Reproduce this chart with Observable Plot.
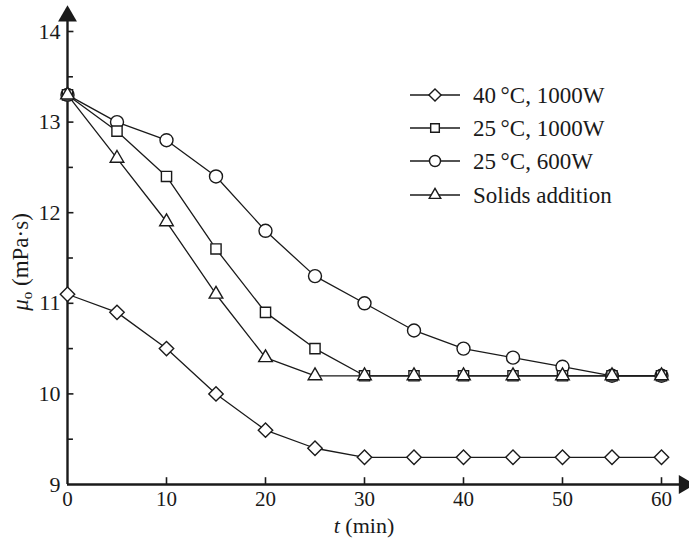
<!DOCTYPE html>
<html>
<head>
<meta charset="utf-8">
<script src="https://cdn.jsdelivr.net/npm/d3@7"></script>
<script src="https://cdn.jsdelivr.net/npm/@observablehq/plot@0.6"></script>
<style>
  html, body { margin: 0; padding: 0; background: #fff; }
  #chart svg { display: block; }
</style>
</head>
<body>
<div id="chart"></div>
<script>
// ---- data ----
const times = [0, 5, 10, 15, 20, 25, 30, 35, 40, 45, 50, 55, 60];
const seriesNames = ["40\u2009°C, 1000W", "25\u2009°C, 1000W", "25\u2009°C, 600W", "Solids addition"];
const s40c1000w = [11.1, 10.9, 10.5, 10.0, 9.6, 9.4, 9.3, 9.3, 9.3, 9.3, 9.3, 9.3, 9.3];
const s25c1000w = [13.3, 12.9, 12.4, 11.6, 10.9, 10.5, 10.2, 10.2, 10.2, 10.2, 10.2, 10.2, 10.2];
const s25c600w = [13.3, 13.0, 12.8, 12.4, 11.8, 11.3, 11.0, 10.7, 10.5, 10.4, 10.3, 10.2, 10.2];
const sSolids = [13.3, 12.6, 11.9, 11.1, 10.4, 10.2, 10.2, 10.2, 10.2, 10.2, 10.2, 10.2, 10.2];
const xTicks = [0, 10, 20, 30, 40, 50, 60];
const yTicks = [9, 10, 11, 12, 13, 14];
const yMinorTicks = [9.5, 10.5, 11.5, 12.5, 13.5];
const symbols = ["diamond2", "square2", "circle", "triangle2"];

const seriesValues = [s40c1000w, s25c1000w, s25c600w, sSolids];
// draw order: diamonds, circles, squares, triangles
const drawOrder = [0, 2, 1, 3];
const data = [];
for (const i of drawOrder) {
  times.forEach((t, j) => data.push({t, v: seriesValues[i][j], series: seriesNames[i]}));
}

const xMin = 0, xMax = 60, yMin = 9, yMax = 14;
const ink = "#1a1a1a";
const font = "'Liberation Serif', 'Times New Roman', 'DejaVu Serif', serif";

const plot = Plot.plot({
  width: 689,
  height: 538,
  marginLeft: 67,
  marginRight: 28,
  marginTop: 31,
  marginBottom: 54,
  style: {fontFamily: font, fontSize: "22px", color: ink, background: "#fff"},
  x: {domain: [xMin, xMax]},
  y: {domain: [yMin, yMax]},
  symbol: {domain: seriesNames, range: symbols},
  marks: [
    Plot.axisX({ticks: xTicks, tickSize: 0, tickPadding: 7, fontSize: 21, tickFormat: "d", label: null}),
    Plot.axisY({ticks: yTicks, tickSize: 0, tickPadding: 7, fontSize: 22, tickFormat: "d", label: null}),
    Plot.ruleX(xTicks.filter(d => d > xMin), {x: d => d, y1: yMin, y2: yMin + 0.075, stroke: ink, strokeWidth: 1.6}),
    Plot.ruleY(yTicks.filter(d => d > yMin), {y: d => d, x1: xMin, x2: xMin + 0.65, stroke: ink, strokeWidth: 1.6}),
    Plot.ruleY(yMinorTicks, {y: d => d, x1: xMin, x2: xMin + 0.6, stroke: ink, strokeWidth: 1.6}),
    Plot.ruleX([xMin], {y1: yMin, y2: yMax + 0.12, stroke: ink, strokeWidth: 2.4}),
    Plot.ruleY([yMin], {x1: xMin, x2: xMax + 2.0, stroke: ink, strokeWidth: 2.4}),
    Plot.dot([xMin], {x: d => d, y: () => yMax + 0.17, symbol: () => "triangle", r: 7, fill: ink, stroke: "none"}),
    Plot.dot([yMin], {x: () => xMax + 2.3, y: d => d, symbol: () => "triangle", rotate: 90, r: 7, fill: ink, stroke: "none"}),
    Plot.line(data, {x: "t", y: "v", z: "series", stroke: ink, strokeWidth: 1.3}),
    Plot.dot(data, {x: "t", y: "v", symbol: "series", r: 6.5, fill: "white", stroke: ink, strokeWidth: 1.4})
  ]
});

document.getElementById("chart").appendChild(plot);

const svg = d3.select(plot);
const fx = plot.scale("x"), fy = plot.scale("y");

// x axis title
const xt = svg.append("text")
  .attr("x", (fx.apply(xMin) + fx.apply(xMax)) / 2)
  .attr("y", 533)
  .attr("text-anchor", "middle")
  .attr("font-family", font).attr("font-size", 22).attr("fill", ink);
xt.append("tspan").attr("font-style", "italic").text("t");
xt.append("tspan").text(" (min)");

// y axis title
const yt = svg.append("text")
  .attr("transform", `translate(28,262) rotate(-90)`)
  .attr("text-anchor", "middle")
  .attr("font-family", font).attr("font-size", 23).attr("fill", ink);
yt.append("tspan").attr("font-style", "italic").text("μ");
yt.append("tspan").attr("font-size", 15).attr("dy", 4).text("o");
yt.append("tspan").attr("dy", -4).text(" (mPa·s)");

// legend
const lg = svg.append("g").attr("font-family", font).attr("font-size", 23).attr("fill", ink).attr("text-anchor", "start");
const legendX0 = 410, legendX1 = 460, legendRows = [95, 128, 161, 195];
const symMap = {diamond2: d3.symbolDiamond2, square2: d3.symbolSquare2, circle: d3.symbolCircle, triangle2: d3.symbolTriangle2};
seriesNames.forEach((name, i) => {
  const y = legendRows[i];
  const cx = 435;
  lg.append("line").attr("x1", legendX0).attr("x2", legendX1).attr("y1", y).attr("y2", y)
    .attr("stroke", ink).attr("stroke-width", 1.3);
  lg.append("path")
    .attr("d", d3.symbol(symMap[symbols[i]], 5.5 * 5.5 * Math.PI)())
    .attr("transform", `translate(${cx},${y})`)
    .attr("fill", "white").attr("stroke", ink).attr("stroke-width", 1.4);
  lg.append("text").attr("x", 473).attr("y", y).attr("dy", "0.33em").text(name);
});
</script>
</body>
</html>
